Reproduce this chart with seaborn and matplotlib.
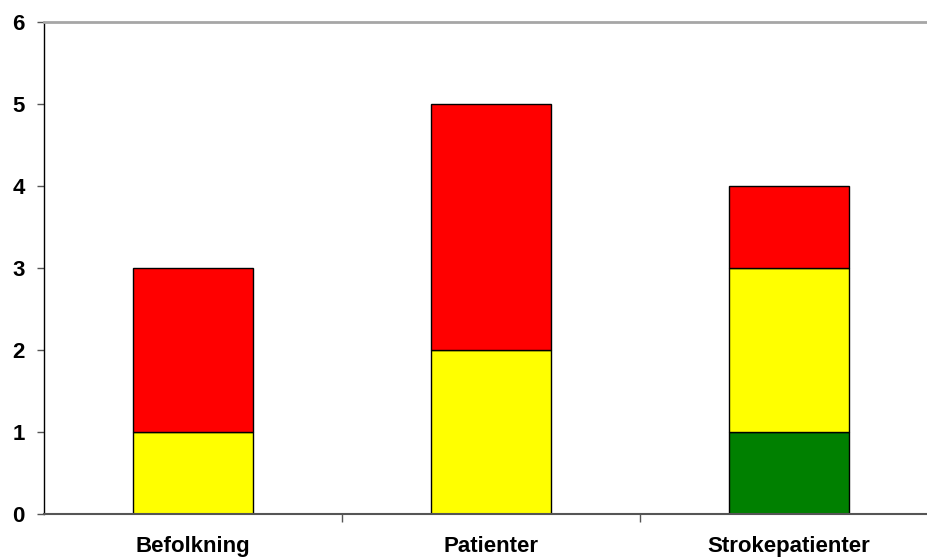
import matplotlib
matplotlib.use('Agg')
import matplotlib.pyplot as plt
import seaborn as sns
import pandas as pd

# data
categories = ['Befolkning', 'Patienter', 'Strokepatienter']
green = [0, 0, 1]
yellow = [1, 2, 2]
red = [2, 3, 1]

df = pd.DataFrame({'kat': categories, 'green': green, 'yellow': yellow, 'red': red})
df['bottom_yellow'] = df['green']
df['bottom_red'] = df['green'] + df['yellow']

sns.set_theme(style="white")
plt.rcParams['font.family'] = ['Liberation Sans', 'DejaVu Sans']

fig = plt.figure(figsize=(9.27, 5.60), dpi=100)
# plot area runs a little past the right edge of the picture
ax = fig.add_axes([44 / 927, 46 / 560, 894 / 927, 492 / 560])

# stacked bars
sns.barplot(data=df, x='kat', y='green', color='#008000', edgecolor='black',
            linewidth=1, width=0.4, saturation=1, ax=ax)
sns.barplot(data=df, x='kat', y='yellow', bottom=df['bottom_yellow'], color='#ffff00',
            edgecolor='black', linewidth=1, width=0.4, saturation=1, ax=ax)
sns.barplot(data=df, x='kat', y='red', bottom=df['bottom_red'], color='#ff0000',
            edgecolor='black', linewidth=1, width=0.4, saturation=1, ax=ax)

ax.set_xlim(-0.5, 2.5)
ax.set_ylim(0, 6)
ax.set_yticks(range(0, 7))
ax.set_xlabel('')
ax.set_ylabel('')

# spines
ax.spines['right'].set_visible(False)
ax.spines['top'].set_color('#a6a6a6')
ax.spines['top'].set_linewidth(2)
ax.spines['left'].set_color('black')
ax.spines['left'].set_linewidth(1)
ax.spines['bottom'].set_color('#555555')
ax.spines['bottom'].set_linewidth(1.5)

# ticks
ax.set_xticks([0.5, 1.5], minor=True)
ax.tick_params(axis='x', which='major', length=0, pad=16, labelsize=16, labelcolor='black')
ax.tick_params(axis='x', which='minor', length=6, width=1, color='#555555', direction='out', bottom=True)
ax.tick_params(axis='y', length=5, width=1, color='#555555', direction='out', left=True, pad=9,
               labelsize=16, labelcolor='black')
for lbl in ax.get_xticklabels() + ax.get_yticklabels():
    lbl.set_fontweight('bold')

fig.savefig('out.png', dpi=100)
